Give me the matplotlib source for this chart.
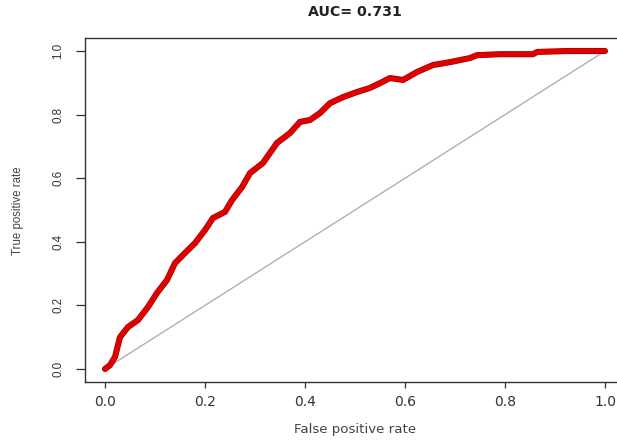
import numpy as np
import matplotlib
matplotlib.use("Agg")
import matplotlib.pyplot as plt
import matplotlib.patheffects as pe

plt.rcParams['font.family'] = ['Liberation Sans', 'DejaVu Sans']

# ROC curve points
fpr = [0.0, 0.010, 0.020, 0.030, 0.046, 0.066, 0.086, 0.104, 0.124, 0.140,
       0.160, 0.180, 0.200, 0.216, 0.240, 0.254, 0.274, 0.290, 0.316, 0.344,
       0.370, 0.390, 0.410, 0.430, 0.450, 0.476, 0.504, 0.530, 0.550, 0.570,
       0.596, 0.624, 0.656, 0.690, 0.730, 0.744, 0.790, 0.856, 0.864, 0.924,
       1.0]
tpr = [0.0, 0.012, 0.038, 0.100, 0.132, 0.154, 0.195, 0.239, 0.280, 0.333,
       0.365, 0.396, 0.437, 0.475, 0.494, 0.531, 0.572, 0.616, 0.648, 0.711,
       0.742, 0.777, 0.783, 0.805, 0.836, 0.855, 0.871, 0.884, 0.899, 0.915,
       0.909, 0.934, 0.956, 0.965, 0.978, 0.987, 0.990, 0.990, 0.997, 1.0,
       1.0]
ticks = [0.0, 0.2, 0.4, 0.6, 0.8, 1.0]
tick_labels = ['0.0', '0.2', '0.4', '0.6', '0.8', '1.0']
auc = 0.731

W, H = 617, 441
fig = plt.figure(figsize=(W / 100, H / 100), dpi=100)
# axes box runs slightly off the right edge, like the cropped original
ax = fig.add_axes([85 / W, (H - 381.7) / H, 540 / W, 343.4 / H])

ax.plot([0, 1], [0, 1], color='#b0b0b0', lw=1.0)
ax.plot(fpr, tpr, color='#e00000', lw=3.4, solid_capstyle='round',
        solid_joinstyle='round',
        path_effects=[pe.Stroke(linewidth=4.4, foreground='#a80000'), pe.Normal()])

ax.set_xlim(-0.04, 1.04)
ax.set_ylim(-0.04, 1.04)
ax.set_xticks(ticks)
ax.set_xticklabels(tick_labels, family='DejaVu Sans', fontsize=10)
ax.set_yticks(ticks)
ax.set_yticklabels(tick_labels, rotation=90, va='center', fontsize=8.4)
ax.tick_params(direction='out', width=0.9, colors='#333333')
ax.tick_params(axis='x', length=4.3, pad=5.5)
ax.tick_params(axis='y', length=6.5, pad=8.5)
for s in ax.spines.values():
    s.set_color('#333333')
    s.set_linewidth(1.0)

# the original picture is stretched sideways, so flat texts are wider
fig.text(355 / W, 1 - 430 / H, 'False positive rate', ha='center', va='center',
         family='DejaVu Sans', fontsize=9.6, color='#444444')
fig.text(18 / W, 1 - 211 / H, 'True positive rate', ha='center', va='center',
         rotation=90, fontsize=8.3, color='#444444')
fig.text(355 / W, 1 - 12 / H, 'AUC= %.3f' % auc, ha='center', va='center',
         family='DejaVu Sans', fontsize=10.2, fontweight='bold', color='#222222')

fig.savefig('out.png', dpi=100)
